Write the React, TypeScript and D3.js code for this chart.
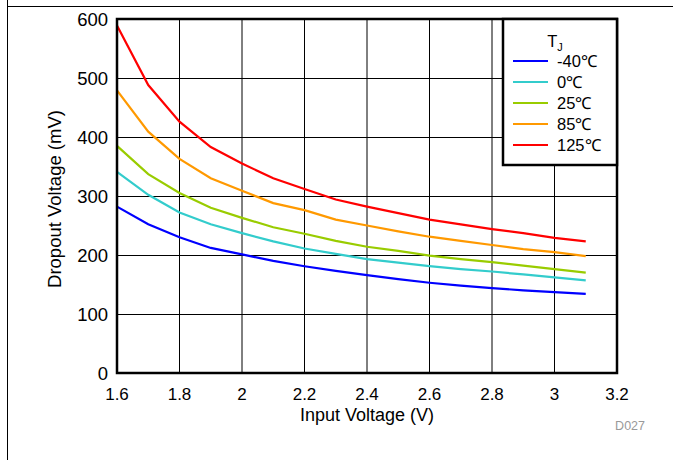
import React from 'react';
import * as d3 from 'd3';

// input voltage steps (V)
const inputVoltage = [1.6, 1.7, 1.8, 1.9, 2.0, 2.1, 2.2, 2.3, 2.4, 2.5, 2.6, 2.7, 2.8, 2.9, 3.0, 3.1];

// dropout voltage (mV) per junction temperature
const dropoutM40 = [282, 252, 230, 212, 201, 190, 181, 173, 166, 159, 153, 148, 144, 140, 137, 134];
const dropout0 = [341, 302, 272, 252, 237, 223, 211, 202, 193, 187, 181, 176, 172, 167, 162, 157];
const dropout25 = [385, 337, 305, 280, 263, 247, 236, 224, 214, 207, 199, 193, 188, 182, 176, 170];
const dropout85 = [479, 409, 363, 330, 309, 288, 276, 260, 250, 240, 231, 224, 217, 210, 205, 198];
const dropout125 = [589, 488, 426, 383, 355, 330, 312, 294, 282, 271, 260, 252, 244, 237, 229, 223];

const seriesLabels = ['-40℃', '0℃', '25℃', '85℃', '125℃'];
const seriesColors = ['#0000ff', '#33cccc', '#99cc00', '#ff9900', '#ff0000'];
const seriesValues = [dropoutM40, dropout0, dropout25, dropout85, dropout125];

const xTicks = [1.6, 1.8, 2, 2.2, 2.4, 2.6, 2.8, 3, 3.2];
const yTicks = [0, 100, 200, 300, 400, 500, 600];

const W = 673;
const H = 460;
const left = 117;
const right = 617;
const top = 19;
const bottom = 373;
const font = '"Liberation Sans", Arial, sans-serif';

export default function App() {
  const x = d3.scaleLinear().domain([1.6, 3.2]).range([left, right]);
  const y = d3.scaleLinear().domain([0, 600]).range([bottom, top]);

  const line = d3
    .line<number>()
    .x((d, i) => x(inputVoltage[i]))
    .y((d) => y(d));

  // legend box
  const lgX = 503;
  const lgY = top;
  const lgW = right - lgX;
  const lgH = 146;

  return (
    <svg
      width={W}
      height={H}
      style={{ position: 'absolute', left: 0, top: 0, background: '#fff' }}
      fontFamily={font}
    >
      {/* outer frame */}
      <line x1={7.5} x2={W} y1={6.5} y2={6.5} stroke="#000" strokeWidth={1} />
      <line x1={7.5} x2={7.5} y1={0} y2={H} stroke="#000" strokeWidth={1} />

      {/* grid */}
      {xTicks.slice(1, -1).map((t) => (
        <line key={'gx' + t} x1={x(t)} x2={x(t)} y1={top} y2={bottom} stroke="#000" strokeWidth={1} />
      ))}
      {yTicks.slice(1, -1).map((t) => (
        <line key={'gy' + t} x1={left} x2={right} y1={y(t) + 0.5} y2={y(t) + 0.5} stroke="#000" strokeWidth={1} />
      ))}

      {/* series */}
      {seriesValues.map((vals, i) => (
        <path key={'s' + i} d={line(vals) || ''} fill="none" stroke={seriesColors[i]} strokeWidth={2.2} />
      ))}

      {/* plot border */}
      <rect x={left} y={top} width={right - left} height={bottom - top} fill="none" stroke="#000" strokeWidth={2.5} />

      {/* legend */}
      <rect x={lgX} y={lgY} width={lgW} height={lgH} fill="#fff" stroke="#000" strokeWidth={2.5} />
      <text x={555} y={47} fontSize={16.5} textAnchor="middle">
        T<tspan fontSize={11} dy={4}>J</tspan>
      </text>
      {seriesLabels.map((lab, i) => (
        <g key={'lg' + i}>
          <line x1={513} x2={548} y1={61 + i * 21} y2={61 + i * 21} stroke={seriesColors[i]} strokeWidth={2.2} />
          <text x={557} y={67 + i * 21} fontSize={16.5}>
            {lab}
          </text>
        </g>
      ))}

      {/* y tick labels */}
      {yTicks.map((t) => (
        <text key={'ty' + t} x={108} y={y(t) + 6.5} fontSize={18.5} textAnchor="end">
          {t}
        </text>
      ))}
      {/* x tick labels */}
      {xTicks.map((t) => (
        <text key={'tx' + t} x={x(t)} y={400} fontSize={17} textAnchor="middle">
          {t}
        </text>
      ))}

      <text x={367} y={421} fontSize={18} textAnchor="middle">
        Input Voltage (V)
      </text>
      <text transform="translate(61,199) rotate(-90)" fontSize={18.5} textAnchor="middle">
        Dropout Voltage (mV)
      </text>
      <text x={645} y={430} fontSize={12.5} textAnchor="end" fill="#999">
        D027
      </text>
    </svg>
  );
}
